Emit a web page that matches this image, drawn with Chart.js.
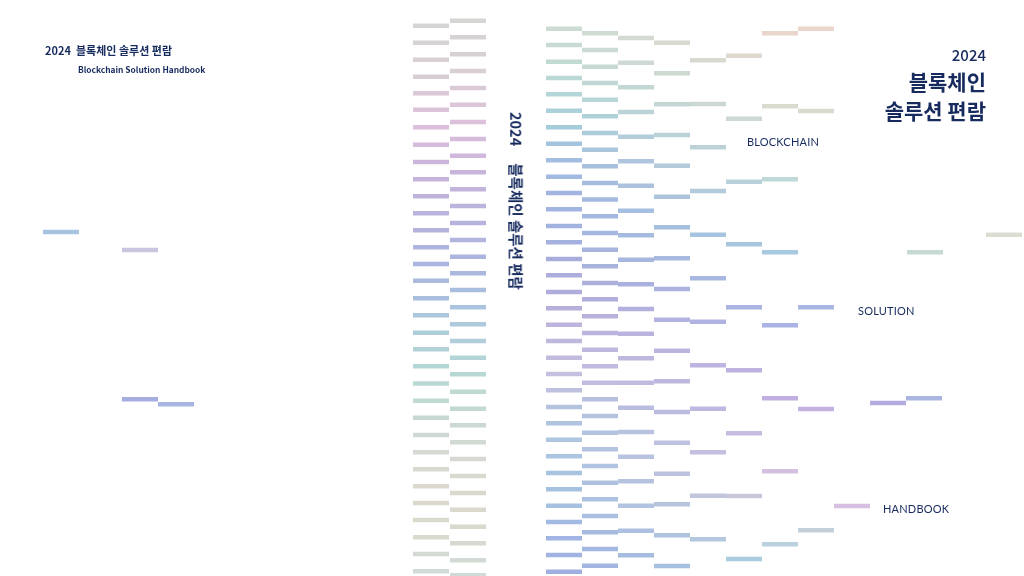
<!DOCTYPE html>
<html>
<head>
<meta charset="utf-8">
<script src="https://cdn.jsdelivr.net/npm/chart.js@4.4.1/dist/chart.umd.min.js"></script>
<style>
  html, body { margin: 0; padding: 0; background: #fff; }
  #wrap { position: relative; width: 1024px; height: 576px; overflow: hidden; }
  #wrap canvas { position: absolute; left: 0; top: 0; }
  .t { position: absolute; color: #172b5e; white-space: pre; line-height: 1; }
  .kr { font-family: "Noto Sans CJK KR", "Noto Sans", sans-serif; }
  .en { font-family: Lato, "Open Sans", sans-serif; font-size: 11px; letter-spacing: 0.2px; }
</style>
</head>
<body>
<div id="wrap">
  <canvas id="cover"></canvas>
  <div class="t kr" style="left:45px;top:45px;font-size:11px;font-weight:700;">2024  블록체인 솔루션 편람</div>
  <div class="t kr" style="left:78px;top:65px;font-size:8.4px;font-weight:700;">Blockchain Solution Handbook</div>
  <div class="t kr" style="right:38px;top:47px;font-size:15px;font-weight:500;">2024</div>
  <div class="t kr" style="right:38px;top:71px;font-size:21px;font-weight:700;">블록체인</div>
  <div class="t kr" style="right:38px;top:100px;font-size:21px;font-weight:700;">솔루션 편람</div>
  <div class="t kr" id="spine" style="left:516px;top:112px;font-size:14.5px;font-weight:700;transform-origin:0 0;transform:rotate(90deg) translate(0,-50%);">2024<span style="margin-left:17px">블록체인 솔루션 편람</span></div>
  <div class="t en" style="left:747px;top:136px;">BLOCKCHAIN</div>
  <div class="t en" style="left:858px;top:305px;">SOLUTION</div>
  <div class="t en" style="left:883px;top:503px;">HANDBOOK</div>
</div>
<script>
// column centres (x) and the row values of each column of dashes (y, top = 0)
const spineX = [431, 468];
const spineRows1 = [25.7, 42.7, 59.7, 76.7, 93.3, 109.7, 127.3, 144.7, 162, 179.3, 196.3,
  213.3, 230.3, 247.3, 264, 280.7, 298.3, 315.3, 332.7, 349.3, 366.3, 383.5,
  400.7, 417.7, 435, 452.3, 469.3, 486.3, 503, 520, 537.3, 554, 571.3];
const spineRows2 = [20.7, 37.3, 54.3, 71, 88, 104.7, 122, 139, 155.7, 172.3, 189.3,
  206, 223, 240, 256.7, 273.3, 290, 307.3, 324.3, 341, 357.7, 374.3,
  391.7, 408.7, 425.3, 442.3, 459, 476, 493, 509.7, 526.7, 543.3, 560.3, 575.3];

const frontX = [564, 600, 636, 672, 708, 744, 780, 816];
const frontRowsA = [28.7, 45, 61.7, 78, 94.3, 110.7, 127.3, 143.7, 160.3, 176.7, 193,
  209.3, 226, 242.3, 259, 275.3, 292, 308.3, 324.7, 341, 357.7, 374,
  390.3, 407, 423.3, 439.7, 456.3, 473, 489.3, 505.7, 522, 538.3, 555, 571.7];
const frontRowsB = [33.3, 50, 66.7, 83, 99.7, 116.3, 133, 149.7, 166.3, 183, 199.5,
  216.3, 233, 249.7, 266.3, 283, 299.3, 316.3, 333, 349.7, 366.3, 382.7,
  399.3, 416, 432.7, 449.3, 466, 482.7, 499.3, 516, 532.3, 549, 565.7];
const frontRowsC = [38, 62.7, 87.3, 112, 136.7, 161.3, 185.7, 210.7, 235.3, 259.7, 284.3,
  309, 333.7, 358.3, 382.7, 407.7, 432, 456.7, 481.3, 505.7, 530.7, 555.3];
const frontRowsD = [42.7, 73.3, 104.3, 135, 165.7, 196.7, 227.3, 258.3, 289, 319.7, 350.7,
  381.3, 412, 442.7, 473.7, 504.3, 535.3, 566];
const frontRowsE = [60.3, 104, 147.3, 191, 234.7, 278.3, 321.7, 365.3, 408.7, 452.3, 495.7, 539.3];
const frontRowsF = [55.7, 118.7, 181.7, 244.3, 307.3, 370.3, 433.3, 496, 559];
const frontRowsG = [33.3, 106.3, 179.3, 252.3, 325.3, 398.3, 471.3, 544.3];
const frontRowsH = [28.7, 111, 307.3, 409, 530.3];

// single dashes scattered over the back and front
const looseX = [61, 140, 140, 176, 852, 888, 925, 924, 1004];
const looseY = [232, 250, 399.3, 404.3, 506, 403, 252.3, 398.3, 234.7];
const looseColors = ['#a6c3e0', '#c8c5dd', '#a6aee0', '#a8b5e3', '#d6bfe0',
  '#b3acdf', '#c6d9d3', '#aab5e0', '#dcdcd3'];

// colour stops (y -> colour) used to tint the dashes
const spineStops = [[25, '#d6d5d3'], [60, '#d8d0d3'], [95, '#dbc9d7'], [127, '#dbbfdb'],
  [162, '#cdb6dc'], [196, '#c0b3dc'], [230, '#b4b3dd'], [264, '#abb6de'], [298, '#a8bfdf'],
  [332, '#aecddb'], [366, '#b5d6d6'], [400, '#bfdad1'], [435, '#cfd9d3'], [469, '#d9d9d1'],
  [503, '#dcd8cd'], [537, '#d8d9cf'], [575, '#d0dad6']];
const frontStopsLeft = [[28, '#ccdcd3'], [61, '#c3dad3'], [94, '#b3d6d8'], [127, '#a6ccdc'],
  [160, '#a3bde0'], [193, '#a2b5e0'], [226, '#a3b3e0'], [259, '#a8aedc'], [292, '#b0acdc'],
  [325, '#bdb3dc'], [374, '#c6bfdf'], [407, '#b3c3de'], [440, '#afc6e0'], [473, '#a8c3e0'],
  [505, '#a6c0e2'], [538, '#a0b5e3'], [571, '#9eafe0']];
const frontStopsRight = [[30, '#ebd5cc'], [60, '#e2d8cf'], [110, '#d8dbcf'], [150, '#c8dad4'],
  [180, '#bfd8d8'], [220, '#a8cfde'], [250, '#a6c9e0'], [290, '#a6b8e3'], [325, '#aab3e3'],
  [360, '#bcaee0'], [400, '#c0afe0'], [440, '#cdbde0'], [470, '#d3c0e0'], [500, '#cdcad9'],
  [530, '#c4d0d9'], [560, '#acd2df']];

function hexRgb(h) {
  return [parseInt(h.slice(1, 3), 16), parseInt(h.slice(3, 5), 16), parseInt(h.slice(5, 7), 16)];
}
function sample(stops, y) {
  if (y <= stops[0][0]) return hexRgb(stops[0][1]);
  for (let i = 1; i < stops.length; i++) {
    if (y <= stops[i][0]) {
      const a = hexRgb(stops[i - 1][1]), b = hexRgb(stops[i][1]);
      const t = (y - stops[i - 1][0]) / (stops[i][0] - stops[i - 1][0]);
      return a.map((v, k) => v + (b[k] - v) * t);
    }
  }
  return hexRgb(stops[stops.length - 1][1]);
}
function rgb(c) { return 'rgb(' + c.map(Math.round).join(',') + ')'; }
function spineTint(y) { return rgb(sample(spineStops, y)); }
function frontTint(x, y) {
  const t = Math.min(1, Math.max(0, (x - 564) / (780 - 564)));
  const a = sample(frontStopsLeft, y), b = sample(frontStopsRight, y);
  return rgb(a.map((v, k) => v + (b[k] - v) * t));
}

function dashSet(xs, ys, colors) {
  return {
    data: ys.map((y, i) => ({ x: Array.isArray(xs) ? xs[i] : xs, y: y })),
    pointStyle: 'line',
    pointRadius: 18,
    pointHoverRadius: 18,
    pointBorderWidth: 4.5,
    pointBorderColor: colors,
    pointBackgroundColor: colors,
    showLine: false,
    clip: false
  };
}

const frontRows = [frontRowsA, frontRowsB, frontRowsC, frontRowsD, frontRowsE, frontRowsF, frontRowsG, frontRowsH];
const datasets = [
  dashSet(spineX[0], spineRows1, spineRows1.map(spineTint)),
  dashSet(spineX[1], spineRows2, spineRows2.map(spineTint))
];
frontRows.forEach((rows, i) => {
  const cx = frontX[i];
  datasets.push(dashSet(cx, rows, rows.map(y => frontTint(cx, y))));
});
datasets.push(dashSet(looseX, looseY, looseColors));

new Chart(document.getElementById('cover'), {
  type: 'scatter',
  data: { datasets: datasets },
  options: {
    responsive: true,
    maintainAspectRatio: false,
    animation: false,
    events: [],
    layout: { padding: 0, autoPadding: false },
    scales: {
      x: { type: 'linear', min: 0, max: 1024, display: false },
      y: { type: 'linear', min: 0, max: 576, reverse: true, display: false }
    },
    plugins: { legend: { display: false }, tooltip: { enabled: false } }
  }
});
</script>
</body>
</html>
